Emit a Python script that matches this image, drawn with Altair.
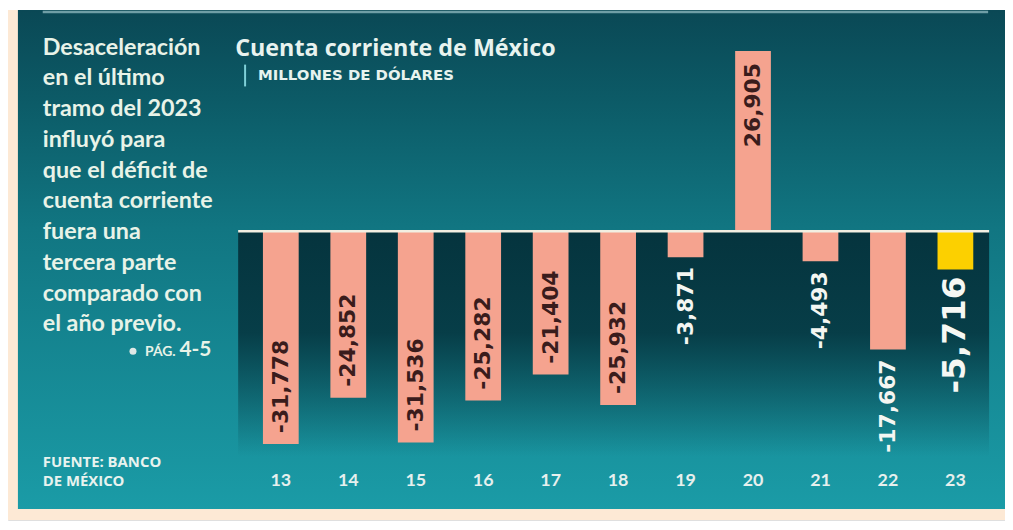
import altair as alt
import pandas as pd

# ---- data ----
years = ["13", "14", "15", "16", "17", "18", "19", "20", "21", "22", "23"]
values = [-31778, -24852, -31536, -25282, -21404, -25932, -3871, 26905, -4493, -17667, -5716]
labels = ["-31,778", "-24,852", "-31,536", "-25,282", "-21,404", "-25,932",
          "-3,871", "26,905", "-4,493", "-17,667", "-5,716"]
placement = ["in", "in", "in", "in", "in", "in", "out", "in", "out", "out", "big"]
highlight = ["no"] * 10 + ["yes"]

title_text = "Cuenta corriente de México"
subtitle_text = "MILLONES DE DÓLARES"
para_lines = ["Desaceleración", "en el último", "tramo del 2023", "influyó para",
              "que el déficit de", "cuenta corriente", "fuera una",
              "tercera parte", "comparado con", "el año previo."]
source_lines = ["FUENTE: BANCO", "DE MÉXICO"]

df = pd.DataFrame({"year": years, "value": values, "label": labels,
                   "place": placement, "hl": highlight})
one = pd.DataFrame({"a": [0]})

W, H = 1005, 514
xscale = alt.Scale(domain=years, range=[241, 989], paddingInner=0.47, paddingOuter=0.235)
yscale = alt.Scale(domain=[-43111, 33037], nice=False, zero=False)

bg_grad = alt.LinearGradient(
    gradient="linear",
    stops=[alt.GradientStop(color="#0a4855", offset=0),
           alt.GradientStop(color="#0c5b67", offset=0.18),
           alt.GradientStop(color="#117682", offset=0.43),
           alt.GradientStop(color="#1b9da8", offset=1)],
    x1=0, x2=0, y1=0, y2=1)
dark_grad = alt.LinearGradient(
    gradient="linear",
    stops=[alt.GradientStop(color="rgba(5,52,62,1)", offset=0),
           alt.GradientStop(color="rgba(5,52,62,0.88)", offset=0.45),
           alt.GradientStop(color="rgba(5,52,62,0)", offset=1)],
    x1=0, x2=0, y1=0, y2=1)

base1 = alt.Chart(one)

bg = base1.mark_rect(color=bg_grad).encode(
    x=alt.value(0), x2=alt.value(W), y=alt.value(0), y2=alt.value(H))
cream_bottom = base1.mark_rect(color="#fde9d5").encode(
    x=alt.value(0), x2=alt.value(W), y=alt.value(503), y2=alt.value(H))
cream_left = base1.mark_rect(color="#fde9d5").encode(
    x=alt.value(0), x2=alt.value(10), y=alt.value(0), y2=alt.value(H))
top_line = base1.mark_rule(color="#6f9ea6", strokeWidth=2.5).encode(
    x=alt.value(35), x2=alt.value(988), y=alt.value(2))
dark_area = base1.mark_rect(color=dark_grad).encode(
    x=alt.value(232), x2=alt.value(989), y=alt.value(223), y2=alt.value(450))

base = alt.Chart(df)

bars = base.mark_bar().encode(
    x=alt.X("year:N", scale=xscale, axis=None),
    y=alt.Y("value:Q", scale=yscale, axis=None),
    color=alt.Color("hl:N", scale=alt.Scale(domain=["no", "yes"], range=["#f5a38f", "#fcd000"]),
                    legend=None))

zero_rule = base1.mark_rule(color="#f2efe2", strokeWidth=2.5).encode(
    x=alt.value(232), x2=alt.value(989), y=alt.datum(0, type="quantitative"))

lab_in_neg = base.transform_filter("datum.place == 'in' && datum.value < 0").mark_text(
    angle=270, align="left", baseline="middle", dx=11, font="DejaVu Sans",
    fontWeight="bold", fontSize=22, color="#3a1c1c").encode(
    x="year:N", y="value:Q", text="label:N")
lab_in_pos = base.transform_filter("datum.place == 'in' && datum.value > 0").mark_text(
    angle=270, align="right", baseline="middle", dx=-12, font="DejaVu Sans",
    fontWeight="bold", fontSize=22, color="#3a1c1c").encode(
    x="year:N", y="value:Q", text="label:N")
lab_out = base.transform_filter("datum.place == 'out'").mark_text(
    angle=270, align="right", baseline="middle", dx=-10, font="DejaVu Sans",
    fontWeight="bold", fontSize=22, color="#f4f6f2").encode(
    x="year:N", y="value:Q", text="label:N")
lab_big = base.transform_filter("datum.place == 'big'").mark_text(
    angle=270, align="right", baseline="middle", dx=-7, font="DejaVu Sans",
    fontWeight="bold", fontSize=33, color="#f6f8f4").encode(
    x="year:N", y="value:Q", text="label:N")

year_labels = base.mark_text(font="Lato", fontWeight="bold", fontSize=18,
                             color="#e6f0ee", baseline="alphabetic").encode(
    x="year:N", y=alt.value(480), text="year:N")

title = base1.mark_text(text=title_text, align="left", baseline="alphabetic",
                        font="Open Sans", fontWeight="bold", fontSize=23.5,
                        color="#e8f3ef").encode(x=alt.value(229), y=alt.value(46))
sub_bar = base1.mark_rule(color="#7fd0d8", strokeWidth=2).encode(
    x=alt.value(239), y=alt.value(55), y2=alt.value(77))
subtitle = base1.mark_text(text=subtitle_text, align="left", baseline="alphabetic",
                           font="DejaVu Sans", fontWeight="bold", fontSize=15,
                           color="#e8f3ef").encode(x=alt.value(252), y=alt.value(71))
para = base1.mark_text(text=para_lines, align="left", baseline="alphabetic",
                       font="Lato", fontWeight="bold", fontSize=23.5, lineHeight=31,
                       color="#e8f3e8").encode(x=alt.value(35), y=alt.value(45))
pag_num = base1.mark_text(text="4-5", align="right", baseline="alphabetic",
                          font="Lato", fontWeight="bold", fontSize=21,
                          color="#e8f3e8").encode(x=alt.value(205), y=alt.value(349))
pag_txt = base1.mark_text(text="PÁG.", align="right", baseline="alphabetic",
                          font="Lato", fontWeight="bold", fontSize=14,
                          color="#e8f3e8").encode(x=alt.value(169), y=alt.value(349))
bullet = base1.mark_point(shape="circle", filled=True, size=50, color="#dfe8e6",
                          opacity=1).encode(x=alt.value(126), y=alt.value(344))
source = base1.mark_text(text=source_lines, align="left", baseline="alphabetic",
                         font="Open Sans", fontWeight="bold", fontSize=15, lineHeight=19,
                         color="#e8f3ef").encode(x=alt.value(35), y=alt.value(461))

chart = alt.layer(
    bg, cream_bottom, cream_left, top_line, dark_area, bars, zero_rule,
    lab_in_neg, lab_in_pos, lab_out, lab_big, year_labels,
    title, sub_bar, subtitle, para, pag_num, pag_txt, bullet, source
).properties(
    width=W, height=H, padding=0,
    autosize=alt.AutoSizeParams(type="none")
).configure_view(stroke=None).configure(background="#ffffff")

chart.save("out.html", embed_options={"renderer": "svg", "actions": False})
